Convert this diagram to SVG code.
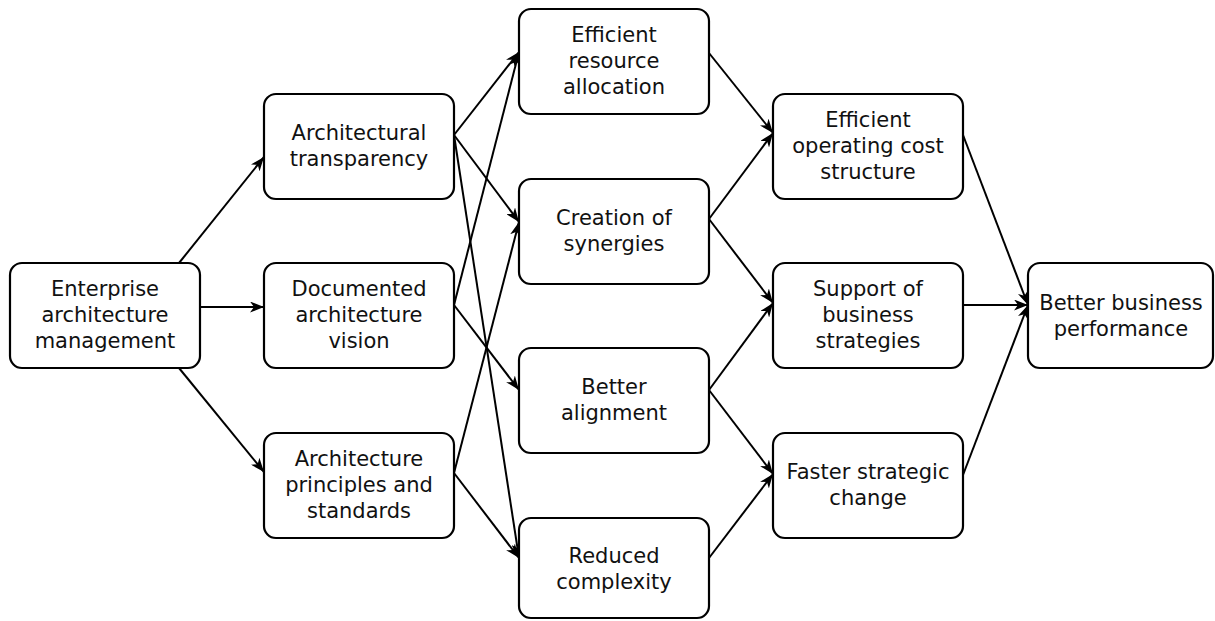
<svg xmlns="http://www.w3.org/2000/svg" width="1215" height="621" viewBox="0 0 1215 621">
  <style>
    .box { fill: #ffffff; stroke: #000000; stroke-width: 2.2; }
    .lbl { font-family: "DejaVu Sans", "Liberation Sans", sans-serif; font-size: 21px; fill: #111111; text-anchor: middle; }
    .edge { fill: none; stroke: #000000; stroke-width: 2; marker-end: url(#arrow); }
  </style>
  <defs>
    <marker id="arrow" markerUnits="userSpaceOnUse" markerWidth="15" markerHeight="11" refX="14" refY="5.5" orient="auto">
      <path d="M0,0 L14,5.5 L0,11 L4,5.5 z" fill="#000000"/>
    </marker>
  </defs>

  <rect width="1215" height="621" fill="#ffffff"/>

  <!-- connectors -->
  <g id="connectors">
    <line class="edge" x1="179" y1="263" x2="264" y2="157"/>
    <line class="edge" x1="200" y1="307" x2="264" y2="307"/>
    <line class="edge" x1="179" y1="368" x2="264" y2="472"/>

    <line class="edge" x1="454" y1="135" x2="519" y2="52"/>
    <line class="edge" x1="454" y1="135" x2="519" y2="222"/>
    <line class="edge" x1="454" y1="135" x2="519" y2="558"/>
    <line class="edge" x1="454" y1="305" x2="519" y2="52"/>
    <line class="edge" x1="454" y1="305" x2="519" y2="390"/>
    <line class="edge" x1="454" y1="473" x2="519" y2="222"/>
    <line class="edge" x1="454" y1="473" x2="519" y2="558"/>

    <line class="edge" x1="709" y1="53" x2="773" y2="133"/>
    <line class="edge" x1="709" y1="219" x2="773" y2="133"/>
    <line class="edge" x1="709" y1="219" x2="773" y2="303"/>
    <line class="edge" x1="709" y1="390" x2="773" y2="303"/>
    <line class="edge" x1="709" y1="390" x2="773" y2="474"/>
    <line class="edge" x1="709" y1="558" x2="773" y2="474"/>

    <line class="edge" x1="963" y1="135" x2="1028" y2="305"/>
    <line class="edge" x1="963" y1="305" x2="1028" y2="305"/>
    <line class="edge" x1="963" y1="475" x2="1028" y2="305"/>
  </g>

  <!-- column 1 -->
  <g id="enterprise-architecture-management">
    <rect class="box" x="10" y="263" width="190" height="105" rx="12"/>
    <text class="lbl" x="105" y="296">Enterprise</text>
    <text class="lbl" x="105" y="322">architecture</text>
    <text class="lbl" x="105" y="348">management</text>
  </g>

  <!-- column 2 -->
  <g id="architectural-transparency">
    <rect class="box" x="264" y="94" width="190" height="105" rx="12"/>
    <text class="lbl" x="359" y="140">Architectural</text>
    <text class="lbl" x="359" y="166">transparency</text>
  </g>
  <g id="documented-architecture-vision">
    <rect class="box" x="264" y="263" width="190" height="105" rx="12"/>
    <text class="lbl" x="359" y="296">Documented</text>
    <text class="lbl" x="359" y="322">architecture</text>
    <text class="lbl" x="359" y="348">vision</text>
  </g>
  <g id="architecture-principles">
    <rect class="box" x="264" y="433" width="190" height="105" rx="12"/>
    <text class="lbl" x="359" y="466">Architecture</text>
    <text class="lbl" x="359" y="492">principles and</text>
    <text class="lbl" x="359" y="518">standards</text>
  </g>

  <!-- column 3 -->
  <g id="efficient-resource-allocation">
    <rect class="box" x="519" y="9" width="190" height="105" rx="12"/>
    <text class="lbl" x="614" y="42">Efficient</text>
    <text class="lbl" x="614" y="68">resource</text>
    <text class="lbl" x="614" y="94">allocation</text>
  </g>
  <g id="creation-of-synergies">
    <rect class="box" x="519" y="179" width="190" height="105" rx="12"/>
    <text class="lbl" x="614" y="225">Creation of</text>
    <text class="lbl" x="614" y="251">synergies</text>
  </g>
  <g id="better-alignment">
    <rect class="box" x="519" y="348" width="190" height="105" rx="12"/>
    <text class="lbl" x="614" y="394">Better</text>
    <text class="lbl" x="614" y="420">alignment</text>
  </g>
  <g id="reduced-complexity">
    <rect class="box" x="519" y="518" width="190" height="100" rx="12"/>
    <text class="lbl" x="614" y="563">Reduced</text>
    <text class="lbl" x="614" y="589">complexity</text>
  </g>

  <!-- column 4 -->
  <g id="efficient-operating-cost">
    <rect class="box" x="773" y="94" width="190" height="105" rx="12"/>
    <text class="lbl" x="868" y="127">Efficient</text>
    <text class="lbl" x="868" y="153">operating cost</text>
    <text class="lbl" x="868" y="179">structure</text>
  </g>
  <g id="support-of-business-strategies">
    <rect class="box" x="773" y="263" width="190" height="105" rx="12"/>
    <text class="lbl" x="868" y="296">Support of</text>
    <text class="lbl" x="868" y="322">business</text>
    <text class="lbl" x="868" y="348">strategies</text>
  </g>
  <g id="faster-strategic-change">
    <rect class="box" x="773" y="433" width="190" height="105" rx="12"/>
    <text class="lbl" x="868" y="479">Faster strategic</text>
    <text class="lbl" x="868" y="505">change</text>
  </g>

  <!-- column 5 -->
  <g id="better-business-performance">
    <rect class="box" x="1028" y="263" width="185" height="105" rx="12"/>
    <text class="lbl" x="1121" y="310">Better business</text>
    <text class="lbl" x="1121" y="336">performance</text>
  </g>
</svg>
